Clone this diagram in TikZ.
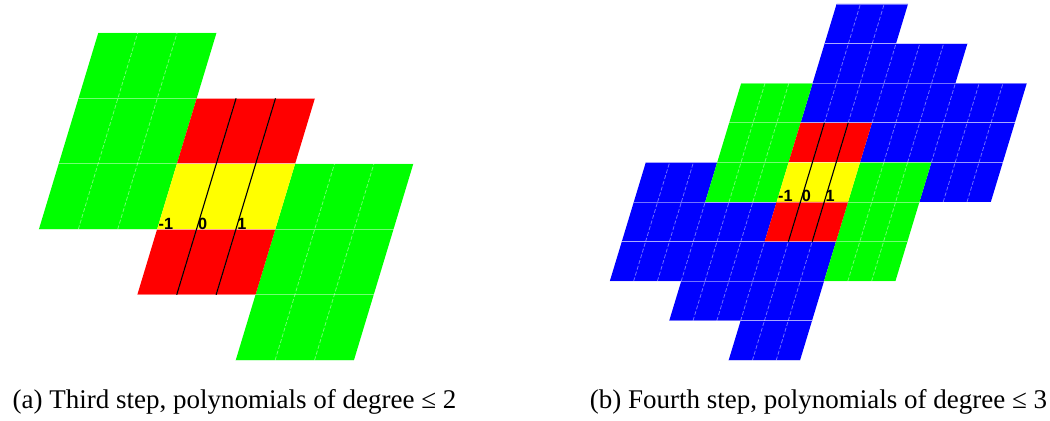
\documentclass[tikz,border=0pt]{standalone}
\usepackage{fontspec}
\setmainfont{Liberation Serif}
\newfontfamily\idxfont{Liberation Sans}
\definecolor{cellgreen}{HTML}{00FF00}
\definecolor{cellred}{HTML}{FF0000}
\definecolor{cellyellow}{HTML}{FFFF00}
\definecolor{cellblue}{HTML}{0000FF}
\tikzset{
  rowline/.style   = {draw=white, line width=0.3pt, opacity=0.45},
  colline/.style   = {draw=white, line width=0.3pt, opacity=0.45,
                      dash pattern=on 1.6pt off 0.8pt},
  axisline/.style  = {draw=black, line width=0.45pt},
  idx/.style       = {font=\idxfont\bfseries\fontsize{6.5}{7}\selectfont,
                      anchor=base west, inner sep=0.4pt},
  captext/.style   = {font=\fontsize{10.8}{13}\selectfont, anchor=base},
  leftgrid/.style  = {shift={(78.6pt,76.68pt)}, x={(15.76pt,0pt)}, y={(7.92pt,26.2pt)}},
  rightgrid/.style = {shift={(320.16pt,87.6pt)}, x={(9.52pt,0pt)}, y={(4.8pt,15.84pt)}},
}
% block of cells: colour, first col, last col, first row, last row
\newcommand{\cellblock}[5]{%
  \fill[#1] (#2,#4) -- (#3+1,#4) -- (#3+1,#5+1) -- (#2,#5+1) -- cycle;
  \foreach \c in {#2,...,#3}{\ifnum\c>#2 \draw[colline] (\c,#4) -- (\c,#5+1);\fi}
  \foreach \r in {#4,...,#5}{\draw[rowline] (#2,\r) -- (#3+1,\r);}
  \draw[rowline] (#2,#5+1) -- (#3+1,#5+1);
}

\begin{document}
\begin{tikzpicture}[x=1pt,y=1pt]
  \useasboundingbox (0,0) rectangle (420,168.4);

  % --- (a) third step ---
  \begin{scope}[leftgrid]
    \cellblock{cellgreen}{-4}{-2}{0}{2}
    \cellblock{cellgreen}{2}{4}{-2}{0}
    \cellblock{cellred}{-1}{1}{1}{1}
    \cellblock{cellyellow}{-1}{1}{0}{0}
    \cellblock{cellred}{-1}{1}{-1}{-1}
    \coordinate (atop0) at (0,2);  \coordinate (abot0) at (0,-1);
    \coordinate (atop1) at (1,2);  \coordinate (abot1) at (1,-1);
    \draw[axisline] (abot0) -- (atop0);
    \draw[axisline] (abot1) -- (atop1);
    \node[idx] (am1) at (-1,0) {-1};
    \node[idx] (a0)  at (0,0)  {0};
    \node[idx] (a1)  at (1,0)  {1};
  \end{scope}

  % --- (b) fourth step ---
  \begin{scope}[rightgrid]
    \cellblock{cellblue}{-1}{1}{4}{4}
    \cellblock{cellblue}{-1}{4}{3}{3}
    \cellblock{cellblue}{-1}{7}{2}{2}
    \cellblock{cellblue}{2}{7}{1}{1}
    \cellblock{cellblue}{-7}{-5}{0}{0}
    \cellblock{cellblue}{5}{7}{0}{0}
    \cellblock{cellblue}{-7}{-2}{-1}{-1}
    \cellblock{cellblue}{-7}{1}{-2}{-2}
    \cellblock{cellblue}{-4}{1}{-3}{-3}
    \cellblock{cellblue}{-1}{1}{-4}{-4}
    \cellblock{cellgreen}{-4}{-2}{0}{2}
    \cellblock{cellgreen}{2}{4}{-2}{0}
    \cellblock{cellred}{-1}{1}{1}{1}
    \cellblock{cellyellow}{-1}{1}{0}{0}
    \cellblock{cellred}{-1}{1}{-1}{-1}
    \coordinate (btop0) at (0,2);  \coordinate (bbot0) at (0,-1);
    \coordinate (btop1) at (1,2);  \coordinate (bbot1) at (1,-1);
    \draw[axisline] (bbot0) -- (btop0);
    \draw[axisline] (bbot1) -- (btop1);
    \node[idx] (bm1) at (-1,0) {-1};
    \node[idx] (b0)  at (0,0)  {0};
    \node[idx] (b1)  at (1,0)  {1};
  \end{scope}

  \node[captext] (capa) at (93.8,4.8)  {(a) Third step, polynomials of degree ≤ 2};
  \node[captext] (capb) at (327.4,4.8) {(b) Fourth step, polynomials of degree ≤ 3};
\end{tikzpicture}
\end{document}
